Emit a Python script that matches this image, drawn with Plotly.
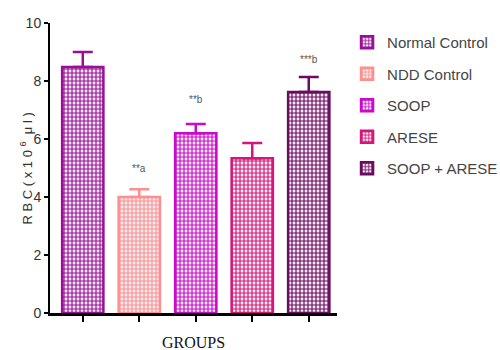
import plotly.graph_objects as go

# Group means and SEM for red blood cell counts
groups = ["Normal Control", "NDD Control", "SOOP", "ARESE", "SOOP + ARESE"]
rbc_mean = [8.48, 4.0, 6.2, 5.34, 7.62]
rbc_sem = [0.52, 0.27, 0.32, 0.52, 0.52]
sig_labels = ["", "**a", "**b", "", "***b"]
sig_label_y = [None, 5.0, 7.35, None, 8.75]
colors = ["#9a0f98", "#ff8f8f", "#cc08cc", "#d4167a", "#6c0a62"]

sans = "Liberation Sans, Arial"

fig = go.Figure()
for i, g in enumerate(groups):
    fig.add_trace(go.Bar(
        x=[i], y=[rbc_mean[i]], name=g,
        width=0.73,
        marker=dict(
            color=colors[i],
            line=dict(color=colors[i], width=2.5),
            pattern=dict(shape="+", fillmode="replace", fgcolor=colors[i],
                         bgcolor="#f4eef4", size=4, solidity=0.5),
        ),
        error_y=dict(type="data", array=[rbc_sem[i]], symmetric=False,
                     arrayminus=[0], color=colors[i], thickness=2.5, width=10),
        legendgroup=g,
    ))

for i, lab in enumerate(sig_labels):
    if lab:
        fig.add_annotation(x=i, y=sig_label_y[i], text=lab, showarrow=False,
                           font=dict(family=sans, size=10, color="#555555"),
                           yanchor="middle")

# rotated y-axis title
fig.add_annotation(xref="paper", yref="paper", x=-0.082, y=0.5,
                   xanchor="center", yanchor="middle", textangle=-90,
                   text="R B C ( x 1 0 <sup>6</sup>  μ l )", showarrow=False,
                   font=dict(family=sans, size=13, color="#333333"))

# x-axis title
fig.add_annotation(xref="paper", yref="paper", x=0.5, y=-0.1,
                   xanchor="center", yanchor="middle",
                   text="GROUPS", showarrow=False,
                   font=dict(family="Liberation Serif, DejaVu Serif", size=16,
                             color="#111111"))

fig.update_layout(
    width=500, height=350,
    margin=dict(l=50, r=163, t=23, b=37, autoexpand=False),
    paper_bgcolor="white", plot_bgcolor="white",
    showlegend=True,
    legend=dict(x=1.035, y=0.99, xanchor="left", yanchor="top",
                font=dict(family=sans, size=15, color="#444444"),
                tracegroupgap=9, bgcolor="rgba(0,0,0,0)"),
    xaxis=dict(range=[-0.58, 4.5], tickmode="array", tickvals=list(range(5)),
               ticktext=[""] * 5, ticks="outside", ticklen=6, tickwidth=1.5,
               tickcolor="black", showline=True, linecolor="black", linewidth=2.5,
               showgrid=False, zeroline=False, automargin=False),
    yaxis=dict(range=[0, 10], tickvals=[0, 2, 4, 6, 8, 10], ticks="outside",
               ticklen=4, tickwidth=1.5, tickcolor="black", showline=True,
               linecolor="black", linewidth=2, showgrid=False, zeroline=False,
               automargin=False,
               tickfont=dict(family=sans, size=14, color="#333333")),
)

fig.write_html("out.html")
